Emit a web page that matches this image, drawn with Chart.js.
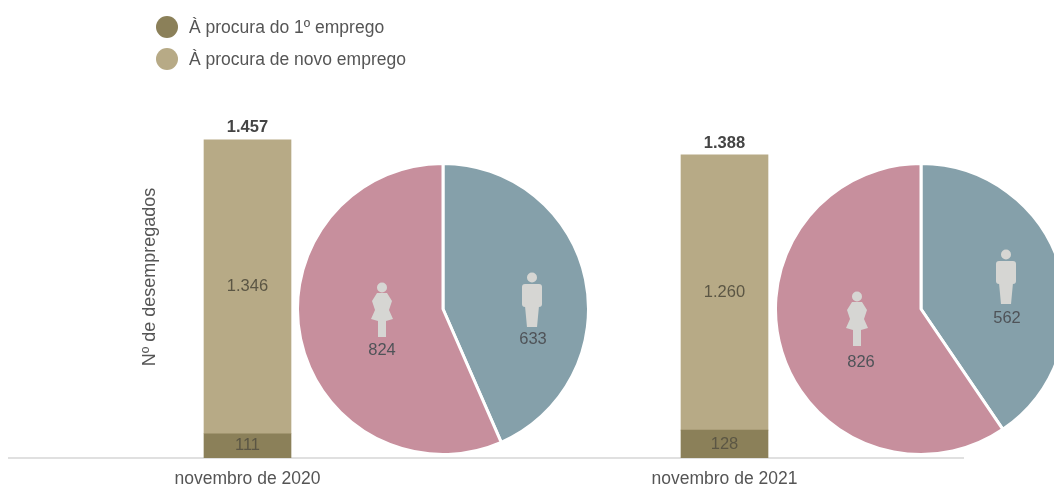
<!DOCTYPE html>
<html>
<head>
<meta charset="utf-8">
<script src="https://cdn.jsdelivr.net/npm/chart.js@4"></script>
<style>
  html, body { margin: 0; padding: 0; background: #fff; }
  body { position: relative; width: 1054px; height: 485px; overflow: hidden; font-family: "Liberation Sans", Arial, sans-serif; }
  canvas { position: absolute; }
  .legend-item { position: absolute; left: 156px; color: #555; font-size: 17.5px; line-height: 22px; white-space: nowrap; }
  .legend-item i { display: inline-block; width: 22px; height: 22px; border-radius: 50%; vertical-align: top; margin-right: 11px; }
</style>
</head>
<body>
<canvas id="bars" width="1054" height="500" style="left:0;top:0"></canvas>
<canvas id="pie2020" width="294" height="294" style="left:296px;top:162px"></canvas>
<canvas id="pie2021" width="294" height="294" style="left:774px;top:162px"></canvas>
<div class="legend-item" id="leg0" style="top:16px"></div>
<div class="legend-item" id="leg1" style="top:48px"></div>
<script>
const categories = ['novembro de 2020', 'novembro de 2021'];
const seriesNames = ['À procura do 1º emprego', 'À procura de novo emprego'];
const firstJob = [111, 128];
const newJob = [1346, 1260];
const totals = [1457, 1388];
const men = [633, 562];
const women = [824, 826];

const colors = ['#8b8059', '#b7aa86'];
const pieColors = ['#85a0aa', '#c78f9d'];
const labelFont = '16.5px "Liberation Sans", Arial, sans-serif';

const fmt = (n) => n >= 1000 ? String(n).replace(/(\d)(\d{3})$/, '$1.$2') : String(n);

seriesNames.forEach((name, i) => {
    const el = document.getElementById('leg' + i);
    el.innerHTML = `<i style="background:${colors[i]}"></i>${name}`;
});

// values inside the bars, totals on top and the axis name
const barLabels = {
    id: 'barLabels',
    afterDatasetsDraw(chart) {
        const ctx = chart.ctx;
        ctx.save();
        ctx.textAlign = 'center';
        ctx.textBaseline = 'middle';
        ctx.font = labelFont;
        ctx.fillStyle = '#5b5644';
        chart.data.datasets.forEach((ds, d) => {
            chart.getDatasetMeta(d).data.forEach((bar, i) => {
                const p = bar.getProps(['x', 'y', 'base'], true);
                ctx.fillText(fmt(ds.data[i]), p.x, (p.y + p.base) / 2);
            });
        });
        ctx.font = 'bold 16.5px "Liberation Sans", Arial, sans-serif';
        ctx.fillStyle = '#444';
        chart.getDatasetMeta(1).data.forEach((bar, i) => {
            ctx.fillText(fmt(totals[i]), bar.x, bar.y - 12);
        });
        ctx.translate(150, 277);
        ctx.rotate(-Math.PI / 2);
        ctx.font = '18px "Liberation Sans", Arial, sans-serif';
        ctx.fillStyle = '#555';
        ctx.fillText('Nº de desempregados', 0, 0);
        ctx.restore();
    }
};

new Chart(document.getElementById('bars'), {
    type: 'bar',
    data: {
        labels: categories,
        datasets: [
            { label: seriesNames[0], data: firstJob, backgroundColor: colors[0], barThickness: 87 },
            { label: seriesNames[1], data: newJob, backgroundColor: colors[1], barThickness: 87 }
        ]
    },
    options: {
        responsive: false,
        animation: false,
        layout: { padding: { left: 9, right: 91, top: 130.5, bottom: 0 } },
        plugins: { legend: { display: false }, tooltip: { enabled: false } },
        scales: {
            x: {
                stacked: true,
                grid: { display: false, drawTicks: false },
                border: { color: '#e0e0e0', width: 2 },
                ticks: { color: '#555', font: { size: 17.5, family: '"Liberation Sans", Arial, sans-serif' }, padding: 10.5 }
            },
            y: { stacked: true, display: false, min: 0, max: 1500 }
        }
    },
    plugins: [barLabels]
});

function drawMan(ctx, x, y) {
    ctx.beginPath();
    ctx.arc(x, y - 22.5, 5, 0, Math.PI * 2);
    ctx.fill();
    ctx.beginPath();
    ctx.roundRect(x - 10, y - 16, 20, 23, 3);
    ctx.fill();
    ctx.beginPath();
    ctx.moveTo(x - 7, y + 6);
    ctx.lineTo(x + 7, y + 6);
    ctx.lineTo(x + 5, y + 27);
    ctx.lineTo(x - 5, y + 27);
    ctx.closePath();
    ctx.fill();
}

function drawWoman(ctx, x, y) {
    ctx.beginPath();
    ctx.arc(x, y - 22.5, 5, 0, Math.PI * 2);
    ctx.fill();
    ctx.beginPath();
    ctx.moveTo(x - 5, y - 17);
    ctx.lineTo(x + 5, y - 17);
    ctx.lineTo(x + 10, y - 9);
    ctx.lineTo(x + 7, y);
    ctx.lineTo(x + 11, y + 9);
    ctx.lineTo(x + 4, y + 11);
    ctx.lineTo(x + 4, y + 27);
    ctx.lineTo(x - 4, y + 27);
    ctx.lineTo(x - 4, y + 11);
    ctx.lineTo(x - 11, y + 9);
    ctx.lineTo(x - 7, y);
    ctx.lineTo(x - 10, y - 9);
    ctx.closePath();
    ctx.fill();
}

// icon and value of each slice, offsets measured from the pie centre
function pieIcons(spots) {
    return {
        id: 'pieIcons',
        afterDatasetsDraw(chart) {
            const ctx = chart.ctx;
            const arc = chart.getDatasetMeta(0).data[0];
            ctx.save();
            ctx.textAlign = 'center';
            ctx.textBaseline = 'middle';
            ctx.font = labelFont;
            spots.forEach((s, i) => {
                ctx.fillStyle = '#d6d6d3';
                (i === 0 ? drawMan : drawWoman)(ctx, arc.x + s.ix, arc.y + s.iy);
                ctx.fillStyle = '#4f5358';
                ctx.fillText(fmt(chart.data.datasets[0].data[i]), arc.x + s.tx, arc.y + s.ty);
            });
            ctx.restore();
        }
    };
}

function makePie(id, values, spots) {
    new Chart(document.getElementById(id), {
        type: 'pie',
        data: {
            labels: ['Homens', 'Mulheres'],
            datasets: [{ data: values, backgroundColor: pieColors, borderColor: '#fff', borderWidth: 3 }]
        },
        options: {
            responsive: false,
            animation: false,
            plugins: { legend: { display: false }, tooltip: { enabled: false } }
        },
        plugins: [pieIcons(spots)]
    });
}

makePie('pie2020', [men[0], women[0]], [
    { ix: 89, iy: -9, tx: 90, ty: 30 },
    { ix: -61, iy: 1, tx: -61, ty: 41 }
]);
makePie('pie2021', [men[1], women[1]], [
    { ix: 85, iy: -32, tx: 86, ty: 9 },
    { ix: -64, iy: 10, tx: -60, ty: 53 }
]);
</script>
</body>
</html>
